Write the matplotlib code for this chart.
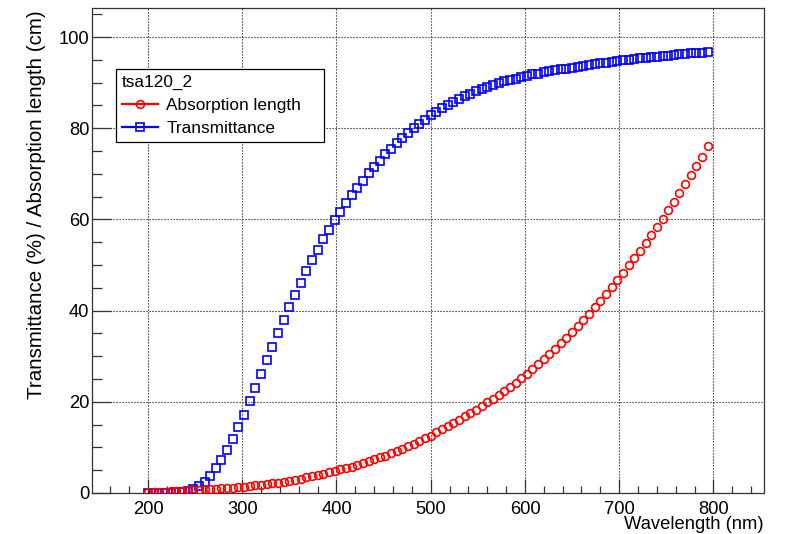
import matplotlib
matplotlib.use('Agg')
import matplotlib.pyplot as plt
from matplotlib.lines import Line2D
from matplotlib.ticker import MultipleLocator

plt.rcParams['font.family'] = ['Liberation Sans', 'DejaVu Sans']

# wavelength grid (nm), one sample every 6 nm
wavelength = list(range(200, 800, 6))

# absorption length (cm)
absorption = [
    0.2, 0.2, 0.3, 0.3, 0.4, 0.4, 0.5, 0.6, 0.6, 0.7,
    0.8, 0.9, 0.9, 1.0, 1.1, 1.2, 1.3, 1.4, 1.5, 1.7,
    1.8, 1.9, 2.1, 2.3, 2.5, 2.7, 2.9, 3.1, 3.4, 3.7,
    3.9, 4.2, 4.5, 4.8, 5.2, 5.5, 5.8, 6.2, 6.6, 7.0,
    7.4, 7.8, 8.2, 8.7, 9.2, 9.7, 10.2, 10.8, 11.4, 12.0,
    12.6, 13.3, 14.0, 14.7, 15.4, 16.1, 16.8, 17.5, 18.3, 19.1,
    19.9, 20.7, 21.5, 22.3, 23.2, 24.2, 25.2, 26.2, 27.3, 28.3,
    29.4, 30.5, 31.6, 32.9, 34.1, 35.4, 36.6, 37.9, 39.3, 40.7,
    42.1, 43.6, 45.2, 46.7, 48.2, 49.9, 51.5, 53.1, 54.8, 56.5,
    58.3, 60.1, 62.0, 63.9, 65.8, 67.8, 69.7, 71.8, 73.8, 76.0,
]

# transmittance (%)
transmittance = [
    0.1, 0.1, 0.1, 0.1, 0.1, 0.2, 0.3, 0.5, 0.9, 1.5,
    2.5, 3.8, 5.4, 7.2, 9.4, 11.8, 14.4, 17.2, 20.1, 23.0,
    26.0, 29.1, 32.1, 35.0, 37.9, 40.7, 43.4, 46.1, 48.6, 51.0,
    53.4, 55.6, 57.7, 59.8, 61.7, 63.5, 65.3, 67.0, 68.5, 70.1,
    71.5, 72.9, 74.3, 75.5, 76.7, 77.9, 79.0, 80.0, 81.0, 81.9,
    82.8, 83.6, 84.4, 85.1, 85.8, 86.4, 87.0, 87.6, 88.2, 88.7,
    89.1, 89.5, 90.0, 90.3, 90.6, 90.9, 91.2, 91.5, 91.8, 92.0,
    92.3, 92.5, 92.7, 92.9, 93.1, 93.3, 93.5, 93.7, 93.9, 94.1,
    94.3, 94.4, 94.6, 94.7, 94.9, 95.0, 95.2, 95.3, 95.5, 95.6,
    95.7, 95.8, 95.9, 96.1, 96.2, 96.3, 96.4, 96.5, 96.6, 96.7,
]

legend_title = 'tsa120_2'
labels = ['Absorption length', 'Transmittance']

fig = plt.figure(figsize=(7.89, 5.34), dpi=100)
ax = fig.add_axes([0.1166, 0.0768, 0.8514, 0.9082])

ax.plot(wavelength, transmittance, ls='none', marker='s', ms=5.6,
        mfc='none', mec='blue', mew=1.2, zorder=3)
ax.plot(wavelength, absorption, ls='none', marker='o', ms=5.6,
        mfc='none', mec='red', mew=1.2, zorder=3)

# ROOT style automatic range: 10% padding, clamped at zero
xspan = max(wavelength) - min(wavelength)
ax.set_xlim(min(wavelength) - 0.1 * xspan, max(wavelength) + 0.1 * xspan)
ax.set_ylim(0, max(transmittance) * 1.1)

ax.xaxis.set_major_locator(MultipleLocator(100))
ax.xaxis.set_minor_locator(MultipleLocator(20))
ax.yaxis.set_major_locator(MultipleLocator(20))
ax.yaxis.set_minor_locator(MultipleLocator(5))

ax.tick_params(axis='both', which='both', direction='in', top=False, right=False,
               labelsize=13.2, width=0.9, color='#333333')
ax.tick_params(axis='x', which='major', length=10, pad=5.5)
ax.tick_params(axis='x', which='minor', length=5)
ax.tick_params(axis='y', which='major', length=14, pad=2)
ax.tick_params(axis='y', which='minor', length=7)

ax.grid(True, which='major', color='black', ls=(0, (1, 1.7)), lw=0.8)
ax.set_axisbelow(True)
for s in ax.spines.values():
    s.set_linewidth(0.9)
    s.set_color('#333333')

ax.set_xlabel('Wavelength (nm)', fontsize=13.2, ha='right', va='center')
ax.xaxis.set_label_coords(1.0, -0.066)
ax.set_ylabel('Transmittance (%) / Absorption length (cm)', fontsize=14.8)
ax.yaxis.label.set_rotation_mode('anchor')
ax.yaxis.label.set_ha('right')
ax.yaxis.label.set_va('center')
ax.yaxis.set_label_coords(-0.083, 0.995)

handles = [
    Line2D([], [], color='red', lw=1.6, marker='o', ms=5.6, mfc='none', mew=1.2),
    Line2D([], [], color='blue', lw=1.6, marker='s', ms=5.6, mfc='none', mew=1.2),
]
x0 = (115.7 - 92) / 672
w = (324 - 115.7) / 672
y1 = 1 - (69.3 - 8) / 485
h = (142 - 69.3) / 485
leg = ax.legend(handles, labels, title=legend_title, loc='upper left',
                bbox_to_anchor=(x0, y1 - h, w, h), mode='expand',
                fontsize=12.4, title_fontsize=12.4, alignment='left',
                fancybox=False, framealpha=1, edgecolor='black',
                borderpad=0.35, handlelength=2.1, handletextpad=0.5,
                labelspacing=0.45, borderaxespad=0)
leg.get_frame().set_linewidth(0.9)

fig.savefig('out.png', dpi=100)
